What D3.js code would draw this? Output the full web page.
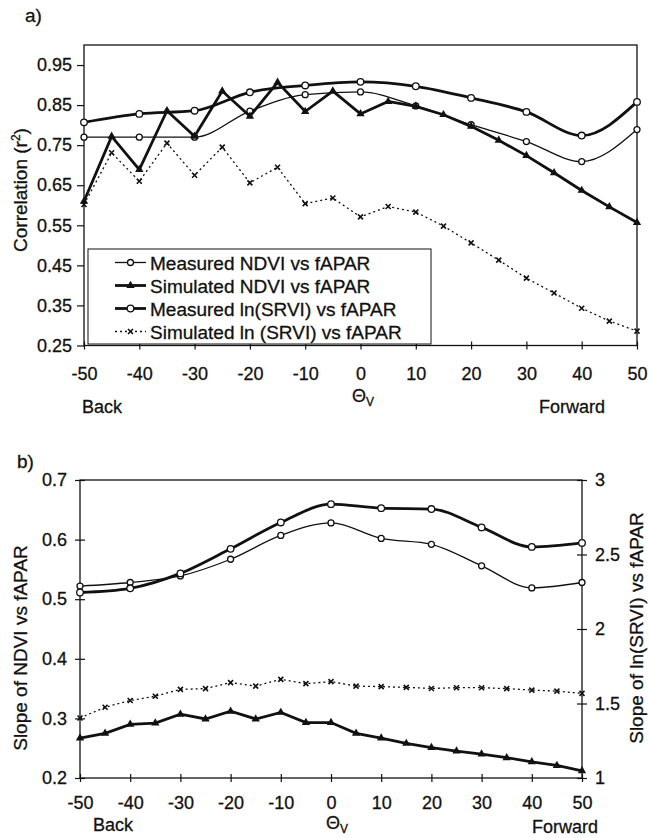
<!DOCTYPE html>
<html>
<head>
<meta charset="utf-8">
<script src="https://cdnjs.cloudflare.com/ajax/libs/d3/7.8.5/d3.min.js"></script>
<style>
  body { margin: 0; background: #fff; }
  svg text { font-family: Arial, "Liberation Sans", sans-serif; fill: #111; stroke: #111; stroke-width: 0.3px; }
</style>
</head>
<body>
<svg id="chart" width="649" height="838"></svg>
<script>
// view angles
var angles5 = [-50, -45, -40, -35, -30, -25, -20, -15, -10, -5, 0, 5, 10, 15, 20, 25, 30, 35, 40, 45, 50];
var angles10 = [-50, -40, -30, -20, -10, 0, 10, 20, 30, 40, 50];
var xTicks = [-50, -40, -30, -20, -10, 0, 10, 20, 30, 40, 50];

// panel a - correlation r2
var measNdviA = [0.77, 0.77, 0.77, 0.835, 0.876, 0.883, 0.848, 0.801, 0.759, 0.709, 0.789];
var measSrviA = [0.807, 0.828, 0.836, 0.882, 0.899, 0.908, 0.897, 0.868, 0.833, 0.774, 0.858];
var simNdviA = [0.61, 0.772, 0.689, 0.836, 0.772, 0.885, 0.822, 0.907, 0.834, 0.885, 0.828, 0.859, 0.847, 0.826, 0.797, 0.762, 0.724, 0.681, 0.637, 0.596, 0.557];
var simSrviA = [0.602, 0.731, 0.66, 0.755, 0.675, 0.745, 0.656, 0.695, 0.604, 0.618, 0.571, 0.597, 0.583, 0.548, 0.506, 0.463, 0.418, 0.381, 0.343, 0.311, 0.286];
var yTicksA = [0.25, 0.35, 0.45, 0.55, 0.65, 0.75, 0.85, 0.95];

// panel b - slopes (NDVI on left axis, ln(SRVI) on right axis)
var measNdviB = [0.522, 0.528, 0.539, 0.567, 0.607, 0.628, 0.602, 0.592, 0.556, 0.519, 0.528];
var measSrviB = [2.245, 2.273, 2.373, 2.538, 2.715, 2.838, 2.811, 2.805, 2.682, 2.551, 2.578];
var simNdviB = [0.267, 0.275, 0.29, 0.292, 0.307, 0.299, 0.312, 0.299, 0.31, 0.293, 0.293, 0.275, 0.267, 0.258, 0.251, 0.245, 0.24, 0.234, 0.227, 0.221, 0.212];
var simSrviB = [1.403, 1.475, 1.52, 1.549, 1.595, 1.6, 1.64, 1.617, 1.662, 1.633, 1.647, 1.617, 1.613, 1.608, 1.601, 1.606, 1.606, 1.6, 1.59, 1.583, 1.568];
var yTicksBL = [0.2, 0.3, 0.4, 0.5, 0.6, 0.7];
var yTicksBR = [1, 1.5, 2, 2.5, 3];

var legendNames = ["Measured NDVI vs fAPAR", "Simulated NDVI vs fAPAR", "Measured ln(SRVI) vs fAPAR", "Simulated ln (SRVI) vs fAPAR"];

var svg = d3.select("#chart");

function zip(xs, ys) {
    return xs.map(function (x, i) { return [x, ys[i]]; });
}

// draws one series: style 0 thin circles, 1 thick triangles, 2 thick circles, 3 dotted crosses
function drawSeries(g, x, y, pts, style) {
    var line = d3.line()
        .x(function (d) { return x(d[0]); })
        .y(function (d) { return y(d[1]); });
    if (style == 0 || style == 2) line.curve(d3.curveMonotoneX);
    var path = g.append("path").datum(pts).attr("d", line)
        .attr("fill", "none").attr("stroke", "#111");
    if (style == 0) path.attr("stroke-width", 1.3);
    if (style == 1 || style == 2) path.attr("stroke-width", 2.8);
    if (style == 3) path.attr("stroke-width", 1.3).attr("stroke-dasharray", "2,3");
    drawMarkers(g, pts.map(function (d) { return [x(d[0]), y(d[1])]; }), style);
}

function drawMarkers(g, xy, style) {
    if (style == 0 || style == 2) {
        g.selectAll(null).data(xy).enter().append("circle")
            .attr("cx", function (d) { return d[0]; })
            .attr("cy", function (d) { return d[1]; })
            .attr("r", style == 2 ? 3.3 : 3)
            .attr("fill", "#fff").attr("stroke", "#111").attr("stroke-width", 1.3);
    } else if (style == 1) {
        g.selectAll(null).data(xy).enter().append("path")
            .attr("d", d3.symbol().type(d3.symbolTriangle).size(30))
            .attr("transform", function (d) { return "translate(" + d[0] + "," + d[1] + ")"; })
            .attr("fill", "#111");
    } else {
        g.selectAll(null).data(xy).enter().append("path")
            .attr("d", "M-2.5,-2.5L2.5,2.5M-2.5,2.5L2.5,-2.5")
            .attr("transform", function (d) { return "translate(" + d[0] + "," + d[1] + ")"; })
            .attr("stroke", "#111").attr("stroke-width", 1.6);
    }
}

function styleAxis(s, lineAttr, lineVal) {
    s.select(".domain").remove();
    s.selectAll("text").style("font-size", "18px").attr("fill", "#111");
    s.selectAll("line").attr(lineAttr, lineVal).attr("stroke", "#111").attr("stroke-width", 1.2);
}

function thetaLabel(g, x, y) {
    var th = g.append("text").attr("x", x).attr("y", y).style("font-size", "18px");
    th.append("tspan").text("\u0398");
    th.append("tspan").attr("dy", 4).style("font-size", "12px").text("V");
}

var plain = function (d) { return String(d); };

// ---------- panel a ----------
var xa = d3.scaleLinear().domain([-50, 50]).range([84, 637]);
var ya = d3.scaleLinear().domain([0.25, 1.0]).range([345.5, 45]);
var ga = svg.append("g");

ga.append("text").attr("x", 25).attr("y", 22).style("font-size", "19px").text("a)");

ga.append("g").attr("transform", "translate(84,0)")
    .call(d3.axisLeft(ya).tickValues(yTicksA).tickSize(7).tickPadding(5).tickFormat(d3.format(".2f")))
    .call(function (s) { styleAxis(s, "x1", 0); });

ga.append("g").attr("transform", "translate(0,345.5)")
    .call(d3.axisBottom(xa).tickValues(xTicks).tickSize(4).tickPadding(18).tickFormat(plain))
    .call(function (s) { styleAxis(s, "y1", -4); });

ga.append("rect").attr("x", 84).attr("y", 45).attr("width", 553).attr("height", 300.5)
    .attr("fill", "none").attr("stroke", "#111").attr("stroke-width", 1.3);

drawSeries(ga, xa, ya, zip(angles10, measNdviA), 0);
drawSeries(ga, xa, ya, zip(angles10, measSrviA), 2);
drawSeries(ga, xa, ya, zip(angles5, simSrviA), 3);
drawSeries(ga, xa, ya, zip(angles5, simNdviA), 1);

// y title a
var yt = ga.append("text").attr("transform", "translate(27,190) rotate(-90)")
    .attr("text-anchor", "middle").style("font-size", "19px");
yt.append("tspan").text("Correlation (r");
yt.append("tspan").attr("dy", -7).style("font-size", "12px").text("2");
yt.append("tspan").attr("dy", 7).text(")");

ga.append("text").attr("x", 102).attr("y", 413).attr("text-anchor", "middle")
    .style("font-size", "18px").text("Back");
ga.append("text").attr("x", 572).attr("y", 413).attr("text-anchor", "middle")
    .style("font-size", "18px").text("Forward");
thetaLabel(ga, 352, 402);

// legend
var lg = ga.append("g");
lg.append("rect").attr("x", 88).attr("y", 249).attr("width", 343).attr("height", 95)
    .attr("fill", "#fff").attr("stroke", "#111").attr("stroke-width", 1);
legendNames.forEach(function (name, i) {
    var ly = 262.5 + i * 23;
    var sample = lg.append("line").attr("x1", 115).attr("x2", 146).attr("y1", ly).attr("y2", ly)
        .attr("stroke", "#111");
    if (i == 0) sample.attr("stroke-width", 1.3);
    if (i == 1 || i == 2) sample.attr("stroke-width", 2.8);
    if (i == 3) sample.attr("stroke-width", 1.3).attr("stroke-dasharray", "2,3");
    drawMarkers(lg, [[130.5, ly]], i);
    lg.append("text").attr("x", 150).attr("y", ly + 7).style("font-size", "19px").text(name);
});

// ---------- panel b ----------
var xb = d3.scaleLinear().domain([-50, 50]).range([80, 582]);
var ybl = d3.scaleLinear().domain([0.2, 0.7]).range([778, 480]);
var ybr = d3.scaleLinear().domain([1, 3]).range([778, 480]);
var gb = svg.append("g");

gb.append("text").attr("x", 17).attr("y", 468).style("font-size", "19px").text("b)");

gb.append("g").attr("transform", "translate(80,0)")
    .call(d3.axisLeft(ybl).tickValues(yTicksBL).tickSize(5).tickPadding(8).tickFormat(d3.format(".1f")))
    .call(function (s) { styleAxis(s, "x1", 5); });

gb.append("g").attr("transform", "translate(582,0)")
    .call(d3.axisRight(ybr).tickValues(yTicksBR).tickSize(5).tickPadding(8).tickFormat(plain))
    .call(function (s) { styleAxis(s, "x1", -5); });

gb.append("g").attr("transform", "translate(0,778)")
    .call(d3.axisBottom(xb).tickValues(xTicks).tickSize(4).tickPadding(14).tickFormat(plain))
    .call(function (s) { styleAxis(s, "y1", -4); });

gb.append("rect").attr("x", 80).attr("y", 480).attr("width", 502).attr("height", 298)
    .attr("fill", "none").attr("stroke", "#111").attr("stroke-width", 1.3);

drawSeries(gb, xb, ybl, zip(angles10, measNdviB), 0);
drawSeries(gb, xb, ybr, zip(angles10, measSrviB), 2);
drawSeries(gb, xb, ybr, zip(angles5, simSrviB), 3);
drawSeries(gb, xb, ybl, zip(angles5, simNdviB), 1);

gb.append("text").attr("transform", "translate(27,648) rotate(-90)")
    .attr("text-anchor", "middle").style("font-size", "19px").text("Slope of NDVI vs fAPAR");
gb.append("text").attr("transform", "translate(643,628) rotate(-90)")
    .attr("text-anchor", "middle").style("font-size", "19px").text("Slope of ln(SRVI) vs fAPAR");

gb.append("text").attr("x", 113).attr("y", 831).attr("text-anchor", "middle")
    .style("font-size", "18px").text("Back");
gb.append("text").attr("x", 565).attr("y", 833).attr("text-anchor", "middle")
    .style("font-size", "18px").text("Forward");
thetaLabel(gb, 326, 829);
</script>
</body>
</html>
